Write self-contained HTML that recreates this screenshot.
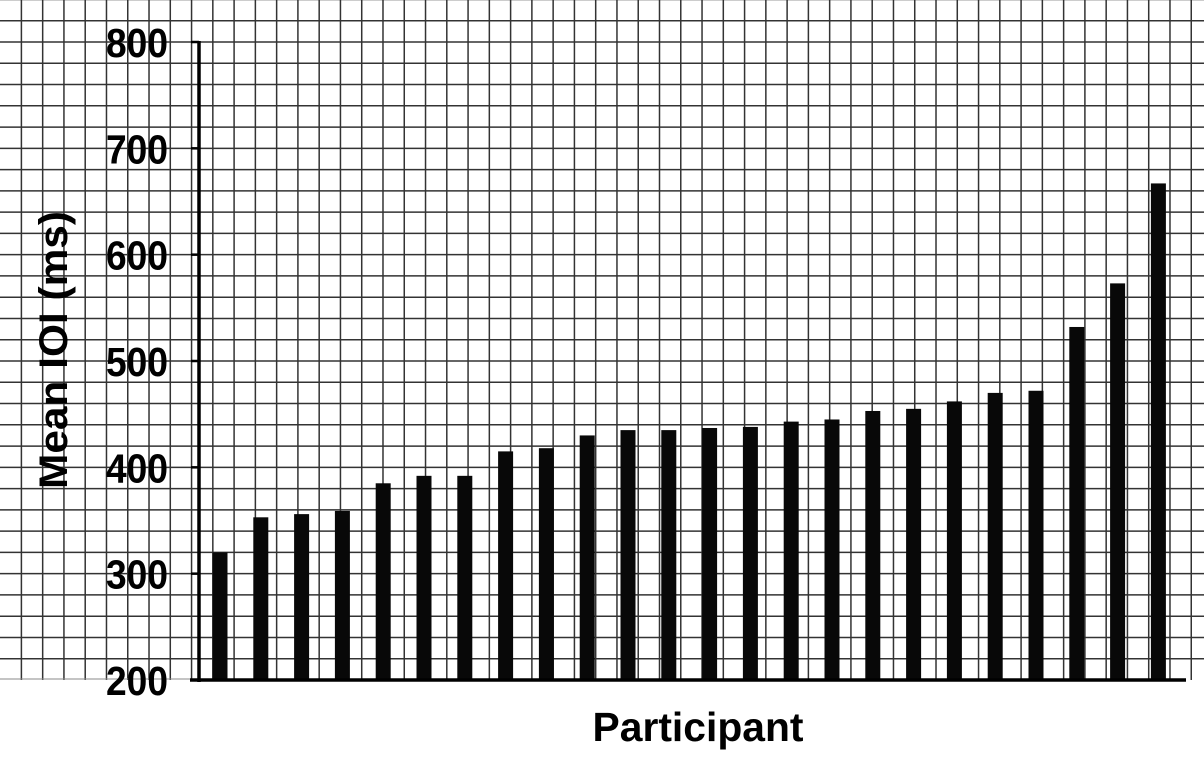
<!DOCTYPE html>
<html><head><meta charset="utf-8"><style>
html,body{margin:0;padding:0;background:#fff;}
svg{display:block;}
text{font-family:"Liberation Sans",Arial,sans-serif;font-weight:bold;fill:#000;}
</style></head><body>
<svg id="chart" width="1204" height="760" viewBox="0 0 1204 760">
<g id="grid"></g>
<g id="bars"></g>
<g id="axes"></g>
<text x="0" y="0" transform="translate(67,350) rotate(-90)" text-anchor="middle" font-size="40" textLength="278" lengthAdjust="spacingAndGlyphs">Mean IOI (ms)</text>
<text x="698" y="741" text-anchor="middle" font-size="41" textLength="211" lengthAdjust="spacingAndGlyphs">Participant</text>
</svg>
<script>
const participants = ["P1","P2","P3","P4","P5","P6","P7","P8","P9","P10","P11","P12","P13","P14","P15","P16","P17","P18","P19","P20","P21","P22","P23","P24"];
const meanIOI = [320,353,356,359,385,392,392,415,418,430,435,435,437,438,443,445,453,455,462,470,472,532,573,667];
const yTicks = [200,300,400,500,600,700,800];

const NS = "http://www.w3.org/2000/svg";
const yMin = 200, yMax = 800, yTop = 42, yBot = 680;
const xLeft = 199.6, band = 40.8, barW = 15;
function yScale(v){ return yBot - (v - yMin) / (yMax - yMin) * (yBot - yTop); }
function xScale(i){ return xLeft + band * i + band / 2; }
function mk(tag, attrs, parent){ const e = document.createElementNS(NS, tag); for (const k in attrs) e.setAttribute(k, attrs[k]); parent.appendChild(e); return e; }

const grid = document.getElementById('grid');
const step = (yBot - yTop) / 30;
for (let x = 21.4; x < 1204; x += 21.27) {
  const l = mk('line', {x1:x, y1:0, x2:x, y2:yBot, stroke:'#333', 'stroke-width':1.5}, grid);
  
  
}
for (let y = yBot - step; y > -2; y -= step) {
  const l = mk('line', {x1:0, y1:y, x2:1204, y2:y, stroke:'#333', 'stroke-width':1.5}, grid);
  
  
}
mk('line', {x1:0, y1:yBot-1, x2:190, y2:yBot-1, stroke:'#888', 'stroke-width':1}, grid);

const bars = document.getElementById('bars');
meanIOI.forEach((v, i) => {
  const top = yScale(v);
  const r = mk('rect', {x:xScale(i) - barW/2, y:top, width:barW, height:yBot - top, fill:'#080808'}, bars);
  
  
});

const axes = document.getElementById('axes');
const ya = mk('line', {x1:199, y1:yTop-1, x2:199, y2:yBot+2, stroke:'#000', 'stroke-width':3.5}, axes);


const xa = mk('line', {x1:190, y1:yBot, x2:1186, y2:yBot, stroke:'#000', 'stroke-width':3.5}, axes);


yTicks.forEach(t => {
  const y = yScale(t);
  const tk = mk('line', {x1:191, y1:y, x2:199, y2:y, stroke:'#000', 'stroke-width':2.5}, axes);
  
  
  const lb = mk('text', {x:168, y:y + 15, 'text-anchor':'end', 'font-size':41, textLength:62, lengthAdjust:'spacingAndGlyphs'}, axes);
  lb.textContent = t;
  
  
});
</script>
</body></html>
